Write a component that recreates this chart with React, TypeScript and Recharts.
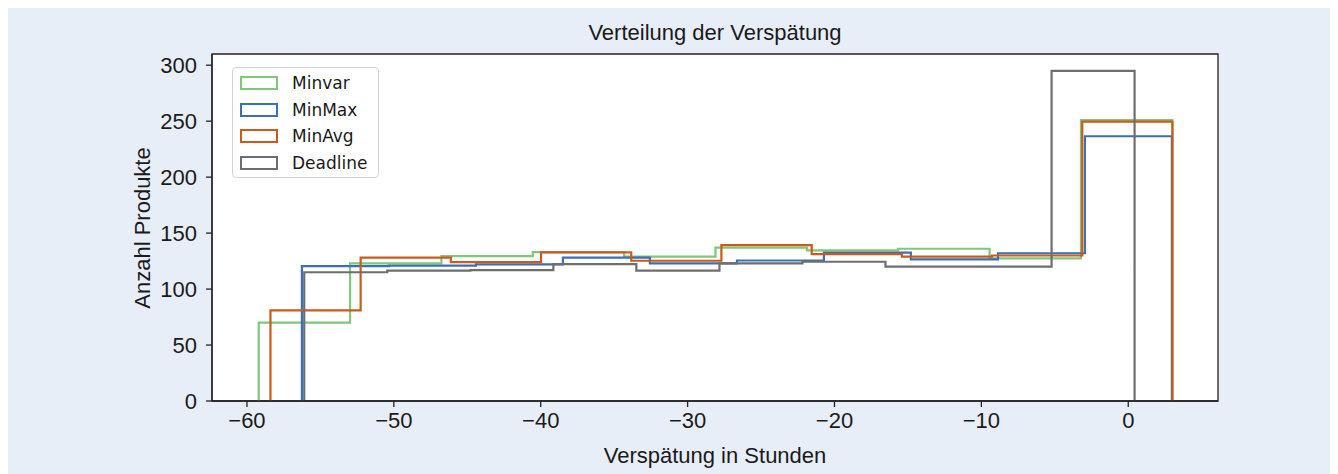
import React from 'react';
import { LineChart, Line, XAxis, YAxis, ReferenceArea } from 'recharts';

// Bin edges (hours) and counts per series
const minvarEdges = [-59.2, -52.98, -46.76, -40.54, -34.32, -28.1, -21.88, -15.66, -9.44, -3.22, 3.0];
const minvarCounts = [70, 123, 129.5, 133, 129, 137, 134.5, 136, 127.5, 251];

const minmaxEdges = [-56.26, -50.34, -44.41, -38.49, -32.57, -26.64, -20.72, -14.8, -8.87, -2.95, 2.97];
const minmaxCounts = [120.5, 121, 122, 128, 123, 125.5, 132.5, 126.5, 132, 236.5];

const minavgEdges = [-58.4, -52.26, -46.12, -39.98, -33.84, -27.7, -21.55, -15.41, -9.27, -3.13, 3.01];
const minavgCounts = [81, 128, 124, 132.7, 125.3, 139.3, 131.2, 129, 130, 249.5];

const deadlineEdges = [-56.1, -50.45, -44.79, -39.14, -33.49, -27.83, -22.18, -16.53, -10.87, -5.22, 0.43];
const deadlineCounts = [115, 116.4, 117, 122.3, 116.4, 123, 124.4, 120, 120, 295];

const xTicks = [-60, -50, -40, -30, -20, -10, 0];
const yTicks = [0, 50, 100, 150, 200, 250, 300];
const xDomain: [number, number] = [-62.38, 6.11];
const yDomain: [number, number] = [0, 310];

const seriesNames = ['Minvar', 'MinMax', 'MinAvg', 'Deadline'];
const seriesColors = ['#7cc978', '#3a70b9', '#cc5a1c', '#6e6e6e'];

// step outline for a histogram: (e0,0),(e0,h0),(e1,h1)...(e9,h9),(e10,h9),(e10,0)
function stepOutline(edges: number[], counts: number[]) {
  const pts: { x: number; y: number }[] = [{ x: edges[0], y: 0 }];
  counts.forEach((c, i) => pts.push({ x: edges[i], y: c }));
  pts.push({ x: edges[edges.length - 1], y: counts[counts.length - 1] });
  pts.push({ x: edges[edges.length - 1], y: 0 });
  return pts;
}

const seriesData = [
  stepOutline(minvarEdges, minvarCounts),
  stepOutline(minmaxEdges, minmaxCounts),
  stepOutline(minavgEdges, minavgCounts),
  stepOutline(deadlineEdges, deadlineCounts),
];

const FONT = '"Liberation Sans", Arial, Helvetica, sans-serif';
const TXT = '#1a1a1a';
const FS = 22;
const fmt = (v: number) => String(v).replace('-', '\u2212');

export default function App() {
  return (
    <div style={{ position: 'relative', width: 1322, height: 466, background: '#e7eef8', fontFamily: FONT, color: TXT }}>
      <div style={{ position: 'absolute', left: 204, width: 1006, top: 13, textAlign: 'center', fontSize: FS, lineHeight: '24px' }}>
        Verteilung der Verspätung
      </div>
      <LineChart
        width={1322}
        height={466}
        margin={{ top: 46, right: 112, bottom: 13, left: 124 }}
        style={{ position: 'absolute', left: 0, top: 0 }}
      >
        <ReferenceArea x1={xDomain[0]} x2={xDomain[1]} y1={yDomain[0]} y2={yDomain[1]} fill="#ffffff" fillOpacity={1} stroke="none" />
        <XAxis
          type="number"
          dataKey="x"
          domain={xDomain}
          ticks={xTicks}
          allowDataOverflow
          height={60}
          tickSize={6}
          tickMargin={5}
          tickFormatter={fmt}
          tick={{ fill: TXT, fontSize: FS, fontFamily: FONT }}
          axisLine={{ stroke: '#222', strokeWidth: 1.3 }}
          tickLine={{ stroke: '#222', strokeWidth: 1.3 }}
        />
        <YAxis
          type="number"
          dataKey="y"
          domain={yDomain}
          ticks={yTicks}
          allowDataOverflow
          width={80}
          tickSize={6}
          tickMargin={9}
          tick={{ fill: TXT, fontSize: FS, fontFamily: FONT }}
          axisLine={{ stroke: '#222', strokeWidth: 1.3 }}
          tickLine={{ stroke: '#222', strokeWidth: 1.3 }}
        />
        {seriesData.map((d, i) => (
          <Line
            key={seriesNames[i]}
            data={d}
            dataKey="y"
            name={seriesNames[i]}
            type="stepAfter"
            stroke={seriesColors[i]}
            strokeWidth={2.2}
            dot={false}
            activeDot={false}
            isAnimationActive={false}
            strokeLinejoin="miter"
          />
        ))}
        <ReferenceArea x1={xDomain[0]} x2={xDomain[1]} y1={yDomain[0]} y2={yDomain[1]} fill="none" stroke="#222" strokeWidth={1.3} />
      </LineChart>
      <div style={{ position: 'absolute', left: 204, width: 1006, top: 436, textAlign: 'center', fontSize: FS, lineHeight: '24px' }}>
        Verspätung in Stunden
      </div>
      <div style={{ position: 'absolute', left: 135, top: 219.5, width: 0, height: 0 }}>
        <div style={{ position: 'absolute', left: -150, top: -12, width: 300, textAlign: 'center', fontSize: FS, lineHeight: '24px', transform: 'rotate(-90deg)' }}>
          Anzahl Produkte
        </div>
      </div>
      <div
        style={{
          position: 'absolute', left: 224, top: 59, width: 147, height: 111, boxSizing: 'border-box',
          border: '1px solid #d4d4d4', borderRadius: 4, background: 'rgba(255,255,255,0.85)',
          fontFamily: '"DejaVu Sans", sans-serif', fontSize: 17, color: TXT,
        }}
      >
        {seriesNames.map((n, i) => (
          <div key={n} style={{ position: 'absolute', left: 0, top: 15 + i * 26.5 - 12, height: 24, width: 147 }}>
            <div style={{ position: 'absolute', left: 7, top: 5, width: 38, height: 14, boxSizing: 'border-box', border: `2px solid ${seriesColors[i]}` }} />
            <div style={{ position: 'absolute', left: 59, top: 0, lineHeight: '24px', whiteSpace: 'nowrap' }}>{n}</div>
          </div>
        ))}
      </div>
    </div>
  );
}
